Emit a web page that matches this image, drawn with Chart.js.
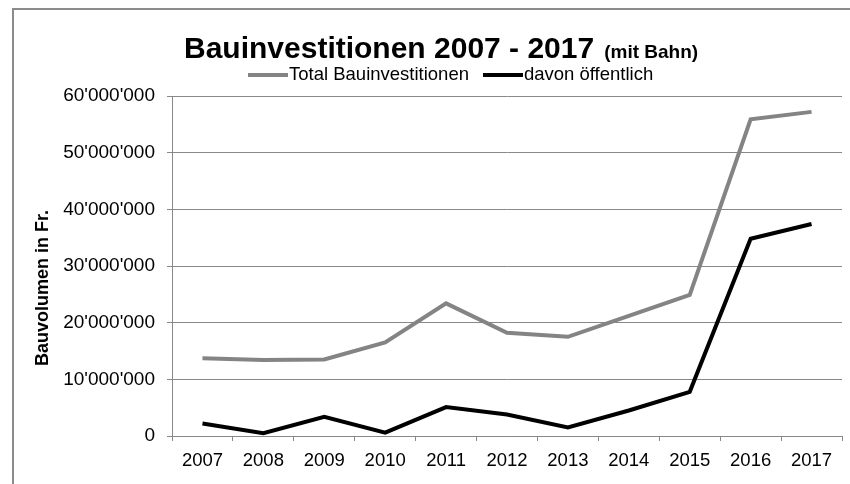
<!DOCTYPE html>
<html>
<head>
<meta charset="utf-8">
<script src="https://cdn.jsdelivr.net/npm/chart.js@4.4.1/dist/chart.umd.min.js"></script>
<style>
  html, body { margin: 0; padding: 0; background: #fff; }
  #wrap { position: relative; width: 850px; height: 484px; }
</style>
</head>
<body>
<div id="wrap"><canvas id="bauChart"></canvas></div>
<script>
// Daten
const years = ['2007', '2008', '2009', '2010', '2011', '2012', '2013', '2014', '2015', '2016', '2017'];
const totalInvest = [13700000, 13400000, 13500000, 16500000, 23400000, 18200000, 17500000, 21200000, 24900000, 55900000, 57200000];
const publicInvest = [2200000, 500000, 3400000, 600000, 5100000, 3800000, 1500000, 4500000, 7800000, 34800000, 37400000];
const yTicks = [0, 10000000, 20000000, 30000000, 40000000, 50000000, 60000000];

const seriesNames = ['Total Bauinvestitionen', 'davon öffentlich'];
const gridGray = '#888888';
const font = 'Liberation Sans, Arial, sans-serif';

function fmt(v) {
    return String(v).replace(/\B(?=(\d{3})+(?!\d))/g, "'");
}

// Rahmen, Titel, Legende und Achsentitel
const decorPlugin = {
    id: 'decor',
    beforeDraw(chart) {
        const c = chart.ctx;
        c.save();
        c.strokeStyle = '#8c8c8c';
        c.lineWidth = 2;
        c.strokeRect(13, 9, 900, 600);
        c.restore();
    },
    afterDraw(chart) {
        const c = chart.ctx;
        c.save();
        c.fillStyle = '#000';
        c.textBaseline = 'alphabetic';
        c.textAlign = 'left';
        c.font = 'bold 30px ' + font;
        const main = 'Bauinvestitionen 2007 - 2017';
        c.fillText(main, 184, 58);
        const w = c.measureText(main).width;
        c.font = 'bold 19px ' + font;
        c.fillText('(mit Bahn)', 184 + w + 10, 58);

        // Legende
        c.font = '18.5px ' + font;
        c.textBaseline = 'middle';
        let x = 248;
        chart.data.datasets.forEach(function(ds) {
            c.strokeStyle = ds.borderColor;
            c.lineWidth = 4;
            c.beginPath();
            c.moveTo(x, 75);
            c.lineTo(x + 40, 75);
            c.stroke();
            c.fillText(ds.label, x + 41, 75);
            x += 41 + c.measureText(ds.label).width + 14;
        });

        // Y-Achsentitel
        c.translate(43, 288);
        c.rotate(-Math.PI / 2);
        c.textAlign = 'center';
        c.font = 'bold 18px ' + font;
        c.fillText('Bauvolumen in Fr.', 0, 0);
        c.restore();
    }
};

const ctx = document.getElementById('bauChart');
new Chart(ctx.getContext('2d'), {
    type: 'line',
    data: {
        labels: years,
        datasets: [{
            label: seriesNames[0],
            data: totalInvest,
            borderColor: '#848484',
            borderWidth: 4,
            tension: 0,
            pointRadius: 0,
            fill: false
        }, {
            label: seriesNames[1],
            data: publicInvest,
            borderColor: '#000000',
            borderWidth: 4,
            tension: 0,
            pointRadius: 0,
            fill: false
        }]
    },
    options: {
        responsive: true,
        maintainAspectRatio: false,
        animation: false,
        layout: {
            padding: { top: 96, right: 8, bottom: 0, left: 0 }
        },
        plugins: {
            legend: { display: false },
            title: { display: false },
            tooltip: { enabled: false }
        },
        scales: {
            y: {
                min: 0,
                max: 60000000,
                afterFit(scale) { scale.width = 172; },
                afterBuildTicks(scale) {
                    scale.ticks = yTicks.map(function(v) { return { value: v }; });
                },
                ticks: {
                    color: '#000',
                    padding: 12,
                    font: { family: font, size: 19 },
                    callback: function(v) { return fmt(v); }
                },
                grid: {
                    color: gridGray,
                    lineWidth: 1,
                    tickLength: 5,
                    drawTicks: true
                },
                border: { color: gridGray, width: 1 }
            },
            x: {
                offset: true,
                afterFit(scale) { scale.height = 48; },
                ticks: {
                    color: '#000',
                    padding: 9,
                    maxRotation: 0,
                    font: { family: font, size: 18.5 }
                },
                grid: {
                    offset: true,
                    drawOnChartArea: false,
                    color: gridGray,
                    tickLength: 5
                },
                border: { color: gridGray, width: 1 }
            }
        }
    },
    plugins: [decorPlugin]
});
</script>
</body>
</html>
